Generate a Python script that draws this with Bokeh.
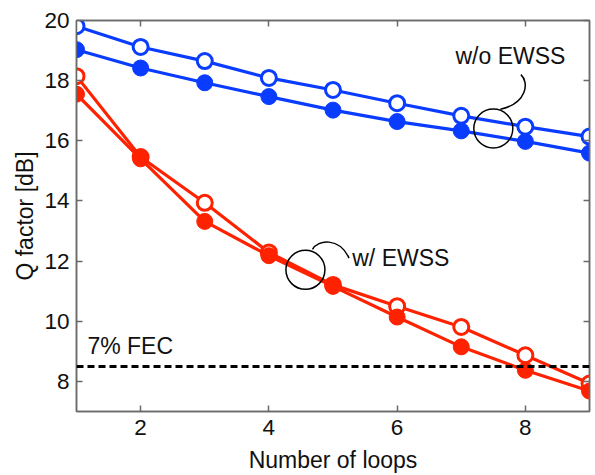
from bokeh.plotting import figure
from bokeh.models import (Range1d, FixedTicker, LinearAxis, Span, Label)
from bokeh.embed import file_html
from bokeh.resources import INLINE

# Q factor versus number of recirculating loops
loops = [1, 2, 3, 4, 5, 6, 7, 8, 9]
wo_ewss_open = [19.81, 19.12, 18.65, 18.09, 17.69, 17.25, 16.83, 16.47, 16.14]
wo_ewss_filled = [19.03, 18.42, 17.93, 17.47, 17.02, 16.64, 16.33, 15.98, 15.59]
w_ewss_open = [18.15, 15.46, 13.94, 12.29, 11.21, 10.50, 9.81, 8.87, 7.93]
w_ewss_filled = [17.55, 15.40, 13.32, 12.18, 11.16, 10.14, 9.15, 8.37, 7.68]
fec_limit = 8.5

x_ticks = [2, 4, 6, 8]
y_ticks = [8, 10, 12, 14, 16, 18, 20]

BLUE = "#0a3cff"
RED = "#ff2200"
AXIS = "#6a6a6a"
FONT = "Liberation Sans"
TEXT = "#111111"

p = figure(width=595, height=475, output_backend="svg", toolbar_location=None,
           x_range=Range1d(1, 9), y_range=Range1d(7, 20),
           min_border_left=76, min_border_right=6,
           min_border_top=20, min_border_bottom=63)
p.background_fill_color = "white"
p.border_fill_color = "white"
p.outline_line_color = AXIS
p.outline_line_width = 1.5
p.xgrid.visible = False
p.ygrid.visible = False


def style_axis(ax, show_labels=True):
    ax.axis_line_color = AXIS
    ax.axis_line_width = 1.5
    ax.major_tick_line_color = AXIS
    ax.major_tick_line_width = 1.5
    ax.major_tick_in = 6
    ax.major_tick_out = 0
    ax.minor_tick_line_color = None
    ax.major_label_text_font = FONT
    ax.major_label_text_color = TEXT
    ax.major_label_text_font_size = "22.5px"
    ax.axis_label_text_font = FONT
    ax.axis_label_text_font_style = "normal"
    ax.axis_label_text_color = TEXT
    ax.axis_label_text_font_size = "23px"
    if not show_labels:
        ax.major_label_overrides = {t: "" for t in ax.ticker.ticks}
        ax.major_label_standoff = 0


p.xaxis.ticker = FixedTicker(ticks=x_ticks)
p.yaxis.ticker = FixedTicker(ticks=y_ticks)
p.xaxis.axis_label = "Number of loops"
p.yaxis.axis_label = "Q factor [dB]"
style_axis(p.xaxis[0])
style_axis(p.yaxis[0])
p.xaxis.major_label_standoff = 8
p.xaxis.axis_label_standoff = 9
p.yaxis.major_label_standoff = 7
p.yaxis.axis_label_standoff = 3

# mirrored tick marks on the top and right edges of the box
top_axis = LinearAxis(ticker=FixedTicker(ticks=x_ticks))
right_axis = LinearAxis(ticker=FixedTicker(ticks=y_ticks))
style_axis(top_axis, show_labels=False)
style_axis(right_axis, show_labels=False)
p.add_layout(top_axis, "above")
p.add_layout(right_axis, "right")

# FEC threshold
p.add_layout(Span(location=fec_limit, dimension="width", line_color="black",
                  line_width=3, line_dash="7 4"))
p.add_layout(Label(x=1.17, y=8.76, text="7% FEC", text_font=FONT,
                   text_font_size="23px", text_color=TEXT))

# series: open markers drawn first, filled markers on top
for ys, color in ((wo_ewss_open, BLUE), (w_ewss_open, RED)):
    p.line(loops, ys, line_color=color, line_width=3.2)
    p.scatter(loops, ys, marker="circle", size=15, fill_color="white",
              line_color=color, line_width=3)
for ys, color in ((wo_ewss_filled, BLUE), (w_ewss_filled, RED)):
    p.line(loops, ys, line_color=color, line_width=3.2)
    p.scatter(loops, ys, marker="circle", size=16, fill_color=color,
              line_color=color, line_width=1)

# callouts: ring around each pair of curves with a leader to its label
p.scatter([7.50], [16.41], marker="circle", size=39, fill_color=None,
          line_color="black", line_width=1.5)
p.bezier(x0=[7.61], y0=[17.05], x1=[7.93], y1=[18.20],
         cx0=[8.03], cy0=[17.25], cx1=[8.06], cy1=[17.95],
         line_color="black", line_width=1.5)
p.add_layout(Label(x=6.91, y=18.38, text="w/o EWSS", text_font=FONT,
                   text_font_size="23px", text_color=TEXT))

p.scatter([4.57], [11.71], marker="circle", size=39, fill_color=None,
          line_color="black", line_width=1.5)
p.bezier(x0=[4.68], y0=[12.39], x1=[5.25], y1=[12.10],
         cx0=[4.76], cy0=[12.72], cx1=[5.10], cy1=[12.80],
         line_color="black", line_width=1.5)
p.add_layout(Label(x=5.30, y=11.68, text="w/ EWSS", text_font=FONT,
                   text_font_size="23px", text_color=TEXT))

open("out.html", "w").write(file_html(p, INLINE))
